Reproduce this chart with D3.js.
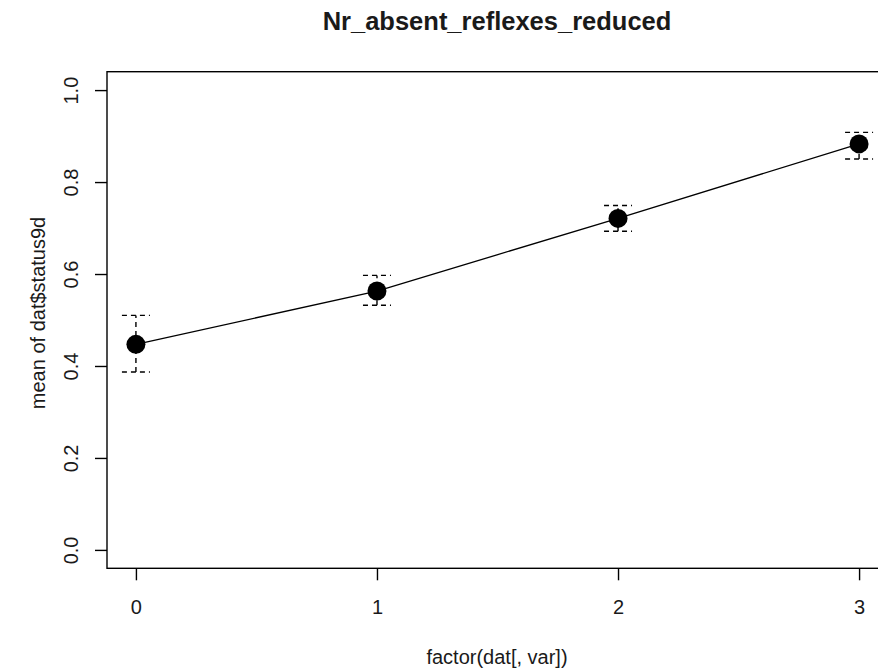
<!DOCTYPE html>
<html>
<head>
<meta charset="utf-8">
<script src="https://cdn.jsdelivr.net/npm/d3@7"></script>
<style>
    body { margin: 0; background: #fff; }
    text { font-family: "Liberation Sans", Arial, sans-serif; fill: #1a1a1a; }
</style>
</head>
<body>
<svg id="chart" width="878" height="670"></svg>
<script>
const levels = [0, 1, 2, 3];
const means = [0.447, 0.563, 0.721, 0.883];
const upper = [0.510, 0.597, 0.749, 0.908];
const lower = [0.387, 0.532, 0.693, 0.850];
const yTicks = [0, 0.2, 0.4, 0.6, 0.8, 1.0];

const title = "Nr_absent_reflexes_reduced",
      xLabel = "factor(dat[, var])",
      yLabel = "mean of dat$status9d";

const svg = d3.select('#chart'),
      plotLeft = 107, plotRight = 888, plotTop = 71.7, plotBottom = 568.3;

const xScale = d3.scaleLinear()
  .domain([-0.12, 3.12])
  .range([plotLeft, plotRight]);

const yScale = d3.scaleLinear()
  .domain([-0.04, 1.04])
  .range([plotBottom, plotTop]);

// plot box (right edge falls outside the window, as in the original)
svg.append("rect")
  .attr("x", plotLeft).attr("y", plotTop)
  .attr("width", plotRight - plotLeft).attr("height", plotBottom - plotTop)
  .attr("fill", "none").attr("stroke", "#000").attr("stroke-width", 1.4);

const xAxis = svg.append("g")
  .attr("transform", `translate(0, ${plotBottom})`)
  .call(d3.axisBottom(xScale).tickValues(levels).tickSize(12).tickSizeOuter(0).tickFormat(d3.format("d")));
xAxis.select(".domain").remove();
xAxis.selectAll("line").attr("stroke", "#000").attr("stroke-width", 1.4);
xAxis.selectAll("text")
  .attr("y", 46).attr("dy", null)
  .style("font-size", "20px").attr("fill", "#1a1a1a");

const yAxis = svg.append("g")
  .attr("transform", `translate(${plotLeft}, 0)`)
  .call(d3.axisLeft(yScale).tickValues(yTicks).tickSize(12).tickSizeOuter(0).tickFormat(d3.format(".1f")));
yAxis.select(".domain").remove();
yAxis.selectAll("line").attr("stroke", "#000").attr("stroke-width", 1.4);
yAxis.selectAll("text")
  .attr("x", null).attr("dy", null)
  .attr("text-anchor", "middle")
  .attr("transform", "translate(-29, 0) rotate(-90)")
  .style("font-size", "20px").attr("fill", "#1a1a1a");

// error bars
const bars = svg.append("g").attr("stroke", "#000").attr("stroke-width", 1.4).attr("stroke-dasharray", "5,4");
levels.forEach(function(l, i) {
    bars.append("line")
      .attr("x1", xScale(l)).attr("x2", xScale(l))
      .attr("y1", yScale(lower[i])).attr("y2", yScale(upper[i]));
    [lower[i], upper[i]].forEach(function(v) {
        bars.append("line")
          .attr("x1", xScale(l) - 14).attr("x2", xScale(l) + 14)
          .attr("y1", yScale(v)).attr("y2", yScale(v));
    });
});

svg.append("path")
  .datum(means)
  .attr("fill", "none").attr("stroke", "#000").attr("stroke-width", 1.3)
  .attr("d", d3.line().x((d, i) => xScale(levels[i])).y(d => yScale(d)));

svg.selectAll(".dot")
  .data(means)
  .enter().append("circle")
  .attr("class", "dot")
  .attr("cx", (d, i) => xScale(levels[i]))
  .attr("cy", d => yScale(d))
  .attr("r", 9.5)
  .attr("fill", "#000");

svg.append("text")
  .attr("x", 497).attr("y", 29.5)
  .attr("text-anchor", "middle")
  .style("font-size", "25.5px").style("font-weight", "bold")
  .text(title);

svg.append("text")
  .attr("x", 497).attr("y", 664)
  .attr("text-anchor", "middle")
  .style("font-size", "20px")
  .text(xLabel);

svg.append("text")
  .attr("transform", "translate(45, 313) rotate(-90)")
  .attr("text-anchor", "middle")
  .style("font-size", "20px")
  .text(yLabel);
</script>
</body>
</html>
